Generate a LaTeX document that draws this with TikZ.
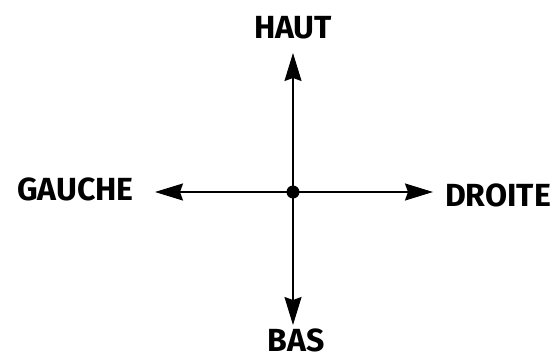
\documentclass[tikz,border=0pt]{standalone}
\usepackage{fontspec}
\setmainfont{Fira Sans}
\usetikzlibrary{arrows.meta}
\tikzset{
  dir/.style={font=\fontsize{32}{32}\selectfont\bfseries,inner sep=0pt,anchor=center},
  fleche/.style={-{Stealth[length=28pt,width=17pt,inset=3pt]},line width=1.6pt}
}
\begin{document}
\begin{tikzpicture}[x=1pt,y=-1pt]
  \useasboundingbox (0,0) rectangle (555,361);

  % texts
  \node[dir] (haut) at (293,28) {HAUT};
  \node[dir] (bas) at (296,340) {BAS};
  \node[dir] (gauche) at (75.5,189.5) {GAUCHE};
  \node[dir] (droite) at (498,195) {DROITE};

  % centre and tips
  \node[circle,fill,inner sep=0pt,minimum size=13pt] (centre) at (293,192) {};
  \coordinate (pHaut) at (293,53);
  \coordinate (pBas) at (293,325);
  \coordinate (pGauche) at (155,192);
  \coordinate (pDroite) at (433,192);

  \draw[fleche] (centre.center) -- (pHaut);
  \draw[fleche] (centre.center) -- (pBas);
  \draw[fleche] (centre.center) -- (pGauche);
  \draw[fleche] (centre.center) -- (pDroite);
\end{tikzpicture}
\end{document}
